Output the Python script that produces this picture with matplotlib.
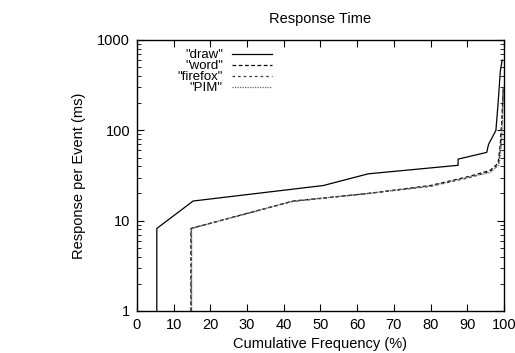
import matplotlib
matplotlib.use("Agg")
from matplotlib import pyplot as plt
from matplotlib.ticker import FixedLocator, LogLocator, NullFormatter

plt.rcParams['font.family'] = ['Liberation Sans', 'DejaVu Sans']

# cumulative frequency (%) vs response (ms)
draw_x = [5.4, 5.4, 15.3, 50.8, 63.0, 87.5, 87.5, 95.3, 95.8, 97.1, 97.8, 98.4, 99.0, 99.5]
draw_y = [1, 8.2, 16.5, 24.5, 33, 41, 48, 57, 70, 88, 100, 200, 450, 600]

word_x = [14.7, 14.7, 42.6, 63.0, 80.0, 90.7, 96.2, 98.4, 99.0, 99.5, 99.8]
word_y = [1, 8.2, 16.5, 20, 24.5, 31, 36, 43, 70, 150, 300]

firefox_x = [14.8, 14.8, 42.0, 63.0, 80.0, 90.7, 96.2, 98.5, 99.1, 99.5, 99.8]
firefox_y = [1, 8.2, 16.2, 20, 24.0, 30, 35, 42, 65, 140, 300]

pim_x = [14.9, 14.9, 42.3, 63.0, 80.0, 90.7, 96.2, 98.6, 99.2, 99.6, 99.9]
pim_y = [1, 8.2, 16.4, 20, 24.2, 30.5, 34, 41, 60, 130, 300]

fs = 10.5

fig = plt.figure(figsize=(5.15, 3.53), dpi=100)
ax = fig.add_axes([0.266, 0.119, 0.7126, 0.7677])

ax.plot(draw_x, draw_y, color='black', lw=0.9, label='"draw"')
ax.plot(word_x, word_y, color='black', lw=0.9, dashes=(3, 2), label='"word"')
ax.plot(firefox_x, firefox_y, color='#333333', lw=0.9, dashes=(2, 2.5), label='"firefox"')
ax.plot(pim_x, pim_y, color='#666666', lw=0.9, dashes=(1, 1), label='"PIM"')

ax.set_yscale('log')
ax.set_xlim(0, 100)
ax.set_ylim(1, 1000)
ax.xaxis.set_major_locator(FixedLocator(range(0, 101, 10)))
ax.yaxis.set_major_locator(FixedLocator([1, 10, 100, 1000]))
ax.yaxis.set_major_formatter(plt.FuncFormatter(lambda v, p: '%d' % v))
ax.yaxis.set_minor_locator(LogLocator(base=10, subs=range(2, 10)))
ax.yaxis.set_minor_formatter(NullFormatter())
ax.tick_params(which='both', direction='in', top=True, right=True, labelsize=fs, pad=5)
ax.tick_params(which='major', length=5, width=0.8)
ax.tick_params(which='minor', length=3, width=0.6)
for s in ax.spines.values():
    s.set_linewidth(1.0)

ax.set_title('Response Time', fontsize=fs, pad=12)
ax.set_xlabel('Cumulative Frequency (%)', fontsize=fs, labelpad=4)
ax.set_ylabel('Response per Event (ms)', fontsize=fs, labelpad=8)

ax.legend(loc='upper left', bbox_to_anchor=(0.085, 1.0), frameon=False, markerfirst=False,
          fontsize=9.5, handlelength=3.0, labelspacing=-0.1, handletextpad=0.7, borderpad=0.2)

fig.savefig('out.png', dpi=100)
